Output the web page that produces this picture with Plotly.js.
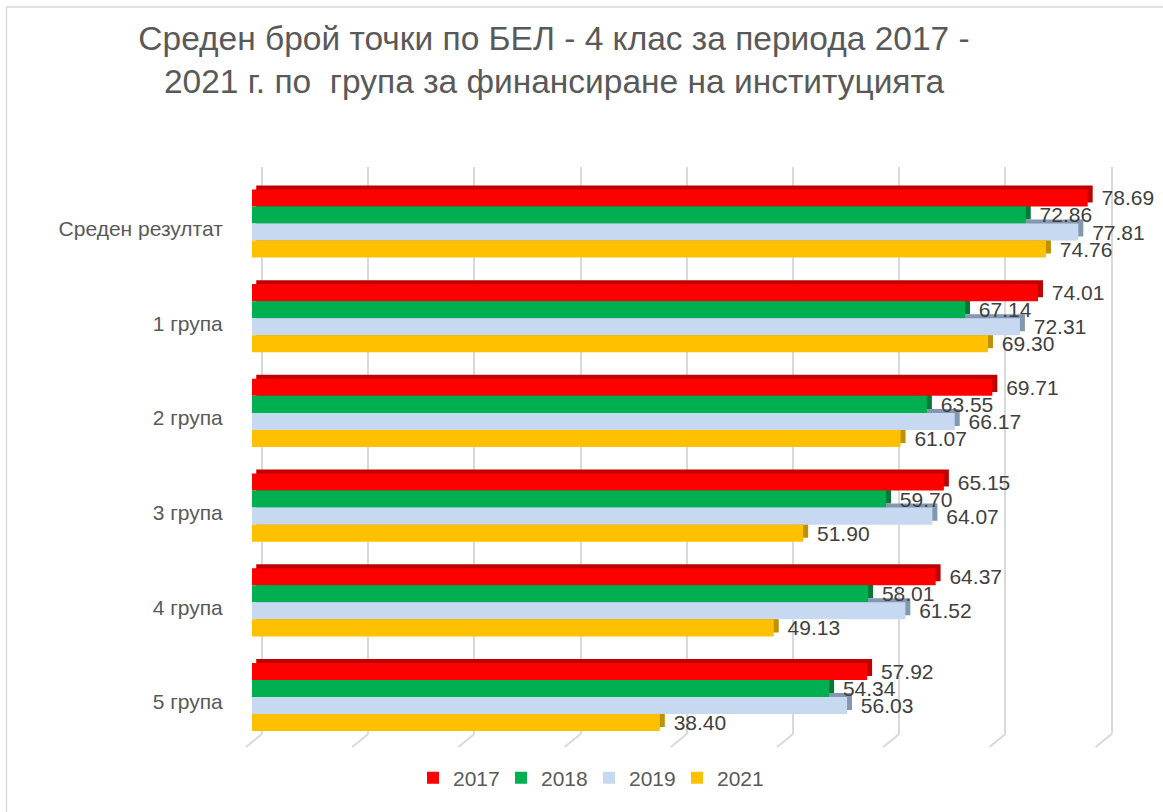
<!DOCTYPE html>
<html>
<head>
<meta charset="utf-8">
<script src="https://cdn.plot.ly/plotly-3.0.1.min.js"></script>
<style>
html,body{margin:0;padding:0;background:#fff;}
#chart{width:1163px;height:812px;}
</style>
</head>
<body>
<div id="chart"></div>
<script>
// ---- data ----
const categories = ['Среден резултат', '1 група', '2 група', '3 група', '4 група', '5 група'];
const years = ['2017', '2018', '2019', '2021'];
const v2017 = [78.69, 74.01, 69.71, 65.15, 64.37, 57.92];
const v2018 = [72.86, 67.14, 63.55, 59.70, 58.01, 54.34];
const v2019 = [77.81, 72.31, 66.17, 64.07, 61.52, 56.03];
const v2021 = [74.76, 69.30, 61.07, 51.90, 49.13, 38.40];
const gridTicks = [0, 10, 20, 30, 40, 50, 60, 70, 80];

const titleText = 'Среден брой точки по БЕЛ - 4 клас за периода 2017 -<br>2021 г. по \u00a0група за финансиране на институцията';

// ---- styles ----
const seriesValues = [v2017, v2018, v2019, v2021];
const frontColors = ['#FF0000', '#00B050', '#C6D9F1', '#FFC000'];
const sideColors = ['#C00000', '#007A37', '#8497B0', '#BF9000'];
const offsets = [-0.36, -0.18, 0, 0.18];
const BW = 0.18;      // bar thickness (category units)
const DX = 0.47;      // 3D depth along value axis
const DY = 0.042;     // 3D depth along category axis
const BASE0 = 0.4;
const font = 'Liberation Sans, Arial, sans-serif';
const PPU = 10.62;    // pixels per value unit

const data = [];
// dummy trace to hold the back-wall grid subplot
data.push({type:'scatter', mode:'markers', x:[0], y:[0], marker:{opacity:0},
  xaxis:'x', yaxis:'y', showlegend:false, hoverinfo:'skip'});

// depth (top and end faces)
seriesValues.forEach((vals, i) => {
  data.push({
    type:'bar', orientation:'h', y:categories,
    x: vals.map(v => v + DX - BASE0), base: BASE0,
    offset: offsets[i] - DY, width: BW,
    marker:{color: sideColors[i], line:{width:0}},
    xaxis:'x2', yaxis:'y2', showlegend:false, hoverinfo:'skip'
  });
});
// front faces
seriesValues.forEach((vals, i) => {
  data.push({
    type:'bar', orientation:'h', y:categories, x: vals,
    offset: offsets[i], width: BW, name: years[i],
    marker:{color: frontColors[i], line:{width:0}},
    xaxis:'x2', yaxis:'y2', showlegend:true,
    hovertemplate: '%{y}: %{x:.2f}<extra>' + years[i] + '</extra>'
  });
});
// labels
seriesValues.forEach((vals, i) => {
  data.push({
    type:'bar', orientation:'h', y:categories,
    x: vals.map(v => v + DX),
    offset: offsets[i], width: BW,
    marker:{color:'rgba(0,0,0,0)', line:{width:0}},
    text: vals.map(v => '\u00a0' + v.toFixed(2)),
    textposition:'outside', constraintext:'none', cliponaxis:false,
    textfont:{family: font, size:21, color:'#404040'},
    xaxis:'x2', yaxis:'y2', showlegend:false, hoverinfo:'skip'
  });
});

const px = (p) => p / 1163;
const py = (p) => 1 - p / 812;

const shapes = [];
// outer chart border
shapes.push({type:'rect', xref:'paper', yref:'paper', x0:px(6.5), x1:1.02, y0:-0.02, y1:py(7),
  line:{color:'#D9D9D9', width:1.5}, fillcolor:'rgba(0,0,0,0)', layer:'below'});
// floor edges of the grid lines
gridTicks.forEach(t => {
  shapes.push({type:'line', xref:'x', yref:'paper', x0:t, y0:py(734), x1:t - 1.5, y1:py(747),
    line:{color:'#D9D9D9', width:2}, layer:'below'});
});

const gridLo = -2, gridHi = 80.5;
const layout = {
  width:1163, height:812,
  margin:{l:0, r:0, t:0, b:0},
  paper_bgcolor:'#FFFFFF', plot_bgcolor:'rgba(0,0,0,0)',
  barmode:'overlay',
  title:{text:titleText, x:px(554), xanchor:'center', xref:'paper',
    y:py(49.5), yanchor:'top', yref:'paper',
    font:{family:font, size:33.5, color:'#595959'}},
  xaxis:{domain:[px(262 + gridLo * PPU), px(262 + gridHi * PPU)], range:[gridLo, gridHi], tickvals:gridTicks,
    showgrid:true, gridcolor:'#D9D9D9', gridwidth:2, zeroline:false,
    showticklabels:false, ticks:'', showline:false, anchor:'y', fixedrange:true},
  yaxis:{domain:[py(734), py(167)], range:[0, 1], visible:false, anchor:'x', fixedrange:true},
  xaxis2:{domain:[px(252), px(252 + 80 * PPU)], range:[0, 80], showgrid:false, zeroline:false,
    showticklabels:false, ticks:'', showline:false, anchor:'y2', fixedrange:true},
  yaxis2:{domain:[py(744.35), py(176.15)], type:'category', range:[5.5, -0.5],
    showgrid:false, zeroline:false, showline:false,
    ticks:'outside', ticklen:24, tickcolor:'rgba(0,0,0,0)',
    tickfont:{family:font, size:21, color:'#595959'}, ticklabelshift:-5,
    anchor:'x2', fixedrange:true},
  legend:{orientation:'h', x:px(413), xanchor:'left', y:py(778), yanchor:'middle',
    font:{family:font, size:21, color:'#595959'}, traceorder:'normal',
    bgcolor:'rgba(0,0,0,0)', entrywidth:43, itemwidth:30},
  shapes: shapes,
  showlegend:true
};

Plotly.newPlot('chart', data, layout, {displayModeBar:false});
</script>
</body>
</html>
